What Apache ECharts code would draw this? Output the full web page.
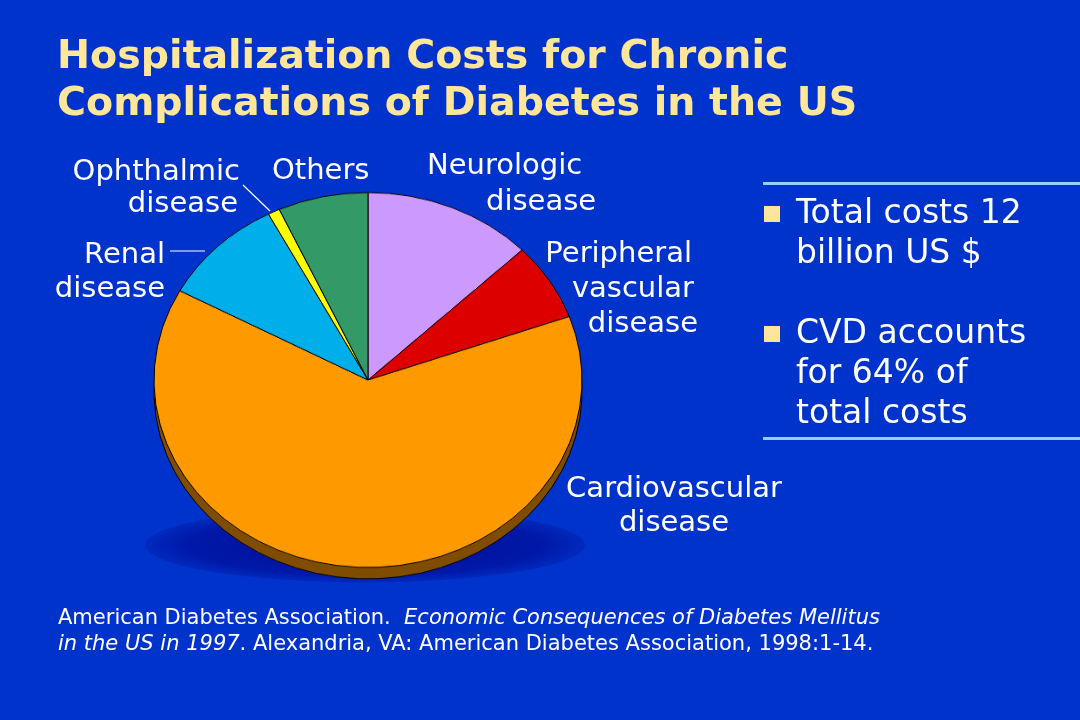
<!DOCTYPE html>
<html>
<head>
<meta charset="utf-8">
<script src="https://cdn.jsdelivr.net/npm/echarts@6/dist/echarts.min.js"></script>
<style>
  html, body { margin: 0; padding: 0; background: #0033cc; }
  #main { position: absolute; left: 0; top: 0; width: 1080px; height: 720px; }
  /* pie is drawn round, then flattened to look tilted */
  #pie { position: absolute; left: 118px; top: 130px; width: 500px; height: 500px;
         transform: scaleY(0.876); transform-origin: 50% 50%; }
</style>
</head>
<body>
<div id="main"></div>
<div id="pie"></div>
<script>
// slice data, clockwise from 12 o'clock (% of total hospitalization costs)
const categories = ['Neurologic disease', 'Peripheral vascular disease', 'Cardiovascular disease',
  'Renal disease', 'Ophthalmic disease', 'Others'];
const values = [12.8, 6.7, 63.4, 9.4, 0.9, 6.8];
const colors = ['#cc99ff', '#dd0000', '#ff9900', '#00aeea', '#ffff00', '#339966'];
const rimColors = ['#66447f', '#6e0000', '#7f4c00', '#005775', '#7f7f00', '#1a4c33'];

const titleLines = ['Hospitalization Costs for Chronic', 'Complications of Diabetes in the US'];
const bullets = [['Total costs 12', 'billion US $'], ['CVD accounts', 'for 64% of', 'total costs']];

const WHITE = '#ffffff';
const FONT = 'DejaVu Sans';

function txt(x, y, text, align, size) {
  return {
    type: 'text', x: x, y: y,
    style: { text: text, fill: WHITE, fontFamily: FONT, fontSize: size || 29, align: align || 'left', verticalAlign: 'middle' }
  };
}

const graphics = [];

// shadow under the pie
graphics.push({
  type: 'circle', x: 365, y: 545, scaleY: 0.17, z: 0,
  shape: { cx: 0, cy: 0, r: 220 },
  style: {
    fill: {
      type: 'radial', x: 0.5, y: 0.5, r: 0.5,
      colorStops: [{ offset: 0, color: '#000c98' }, { offset: 0.8, color: '#0018a8' }, { offset: 1, color: '#002abd' }]
    }
  }
});

// title with drop shadow
titleLines.forEach((t, i) => {
  graphics.push({
    type: 'text', x: 57, y: 58 + i * 47,
    style: {
      text: t, fill: '#ffe699', fontFamily: FONT, fontWeight: 'bold', fontSize: 39.5, verticalAlign: 'middle',
      textShadowColor: '#0a1240', textShadowOffsetX: 3, textShadowOffsetY: 3, textShadowBlur: 0
    }
  });
});

// slice labels
graphics.push(txt(240, 172, 'Ophthalmic', 'right'), txt(238, 204, 'disease', 'right'));
graphics.push(txt(272, 171, 'Others'));
graphics.push(txt(427, 166, 'Neurologic'), txt(486, 202, 'disease'));
graphics.push(txt(692, 254, 'Peripheral', 'right'), txt(694, 289, 'vascular', 'right'), txt(698, 324, 'disease', 'right'));
graphics.push(txt(165, 255, 'Renal', 'right'), txt(165, 289, 'disease', 'right'));
graphics.push(txt(674, 489, 'Cardiovascular', 'center'), txt(674, 523, 'disease', 'center'));
graphics.push({ type: 'line', shape: { x1: 170, y1: 251, x2: 205, y2: 251 }, style: { stroke: WHITE, lineWidth: 1.2 } });
graphics.push({ type: 'line', shape: { x1: 243, y1: 185, x2: 270, y2: 211 }, style: { stroke: WHITE, lineWidth: 1.2 } });

// right-hand notes
graphics.push({ type: 'rect', shape: { x: 763, y: 182, width: 317, height: 3 }, style: { fill: '#99ccff' } });
graphics.push({ type: 'rect', shape: { x: 763, y: 437, width: 317, height: 3 }, style: { fill: '#99ccff' } });
let by = 214;
bullets.forEach(lines => {
  graphics.push({ type: 'rect', shape: { x: 764, y: by - 8, width: 16, height: 16 }, style: { fill: '#ffe49b' } });
  lines.forEach((l, j) => graphics.push(txt(796, by + j * 40, l, 'left', 33)));
  by += lines.length * 40 + 40;
});

// reference
const rich = {
  n: { fill: WHITE, fontFamily: FONT, fontSize: 21 },
  i: { fill: WHITE, fontFamily: FONT, fontSize: 21, fontStyle: 'italic' }
};
graphics.push({
  type: 'text', x: 58, y: 619,
  style: { text: '{n|American Diabetes Association.  }{i|Economic Consequences of Diabetes Mellitus}', verticalAlign: 'middle', rich: rich }
});
graphics.push({
  type: 'text', x: 58, y: 645,
  style: { text: '{i|in the US in 1997}{n|. Alexandria, VA: American Diabetes Association, 1998:1-14.}', verticalAlign: 'middle', rich: rich }
});

const mainChart = echarts.init(document.getElementById('main'));
mainChart.setOption({
  backgroundColor: '#0033cc',
  animation: false,
  graphic: graphics
});

const pieData = categories.map((c, i) => ({ name: c, value: values[i], itemStyle: { color: colors[i] } }));
const rimData = categories.map((c, i) => ({ name: c, value: values[i], itemStyle: { color: rimColors[i] } }));

const pieChart = echarts.init(document.getElementById('pie'));
pieChart.setOption({
  animation: false,
  series: [
    {
      // side of the disc
      type: 'pie', center: [250, 263], radius: [0, 214], startAngle: 90, z: 1,
      label: { show: false }, labelLine: { show: false }, silent: true,
      itemStyle: { borderColor: '#000', borderWidth: 1 },
      data: rimData
    },
    {
      type: 'pie', center: [250, 250], radius: [0, 214], startAngle: 90, z: 2,
      label: { show: false }, labelLine: { show: false },
      itemStyle: { borderColor: '#000', borderWidth: 1 },
      emphasis: { disabled: true },
      data: pieData
    }
  ]
});
</script>
</body>
</html>
